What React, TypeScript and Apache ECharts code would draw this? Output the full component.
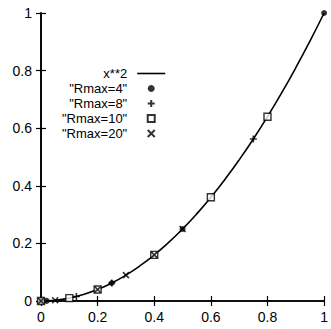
import React, { useEffect, useRef } from 'react';
import * as echarts from 'echarts';

const xTicks = [0, 0.2, 0.4, 0.6, 0.8, 1];
const curveX = [0, 0.05, 0.1, 0.15, 0.2, 0.25, 0.3, 0.35, 0.4, 0.45, 0.5, 0.55, 0.6, 0.65, 0.7, 0.75, 0.8, 0.85, 0.9, 0.95, 1];
const curveY = [0, 0.0025, 0.01, 0.0225, 0.04, 0.0625, 0.09, 0.1225, 0.16, 0.2025, 0.25, 0.3025, 0.36, 0.4225, 0.49, 0.5625, 0.64, 0.7225, 0.81, 0.9025, 1];

const rmax4X = [0, 0.02, 0.25, 0.5, 1];
const rmax4Y = [0, 0.0004, 0.0625, 0.25, 1];
const rmax8X = [0, 0.125, 0.25, 0.75];
const rmax8Y = [0, 0.0156, 0.0625, 0.5625];
const rmax10X = [0, 0.1, 0.2, 0.4, 0.6, 0.8];
const rmax10Y = [0, 0.01, 0.04, 0.16, 0.36, 0.64];
const rmax20X = [0, 0.05, 0.2, 0.3, 0.4, 0.5];
const rmax20Y = [0, 0.0025, 0.04, 0.09, 0.16, 0.25];

const names = ['x**2', '"Rmax=4"', '"Rmax=8"', '"Rmax=10"', '"Rmax=20"'];

const zip = (xs: number[], ys: number[]) => xs.map((x, i) => [x, ys[i]]);

const FONT = '"Liberation Sans", Arial, sans-serif';
const PLUS = 'path://M5,0V10M0,5H10';
const CROSS = 'path://M0,0L10,10M10,0L0,10';
const SQUARE = 'path://M0,0H10V10H0Z';
const DOT = 'path://M5,0A5,5,0,1,1,4.99,0Z';
const DASH = 'path://M0,0H28V1.6H0Z';

export default function App() {
  const ref = useRef<HTMLDivElement>(null);
  useEffect(() => {
    document.body.style.margin = '0';
    const chart = echarts.init(ref.current!, null, { renderer: 'svg' });
    const axisCommon = {
      type: 'value' as const,
      min: 0,
      max: 1,
      interval: 0.2,
      splitLine: { show: false },
      axisLine: { show: true, lineStyle: { color: '#000', width: 1.6 } },
      axisTick: { show: true, inside: true, length: 5, lineStyle: { color: '#000', width: 1.2 } },
    };
    chart.setOption({
      animation: false,
      backgroundColor: '#fff',
      grid: { left: 41, right: 4, top: 13, bottom: 28 },
      xAxis: [
        {
          ...axisCommon,
          position: 'bottom',
          axisLabel: {
            show: true, color: '#000', fontSize: 14, fontFamily: FONT, margin: 9,
            formatter: (v: number) => (xTicks.includes(Math.round(v * 10) / 10) ? String(Math.round(v * 10) / 10) : ''),
          },
        },
        { ...axisCommon, position: 'top', axisLabel: { show: false } },
      ],
      yAxis: [
        {
          ...axisCommon,
          position: 'left',
          axisLabel: { show: true, color: '#000', fontSize: 14, fontFamily: FONT, margin: 9 },
        },
        { ...axisCommon, position: 'right', axisLabel: { show: false } },
      ],
      legend: {
        orient: 'vertical',
        align: 'right',
        left: 57,
        top: 62,
        itemWidth: 28,
        itemHeight: 7,
        itemGap: 2,
        symbolKeepAspect: true,
        selectedMode: false,
        textStyle: { color: '#000', fontSize: 13, fontFamily: FONT, padding: [0, 5, 0, 0] },
        data: [
          { name: names[0], icon: DASH },
          { name: names[1], icon: DOT },
          { name: names[2], icon: PLUS },
          { name: names[3], icon: SQUARE },
          { name: names[4], icon: CROSS },
        ],
      },
      series: [
        {
          name: names[0], type: 'line', data: zip(curveX, curveY), smooth: true, symbol: 'none',
          lineStyle: { color: '#000', width: 1.6 }, itemStyle: { color: '#000' }, z: 1,
        },
        {
          name: names[1], type: 'scatter', data: zip(rmax4X, rmax4Y), symbol: 'circle', symbolSize: 6,
          itemStyle: { color: '#000' }, z: 3,
        },
        {
          name: names[2], type: 'scatter', data: zip(rmax8X, rmax8Y), symbol: PLUS, symbolSize: 7,
          itemStyle: { color: 'none', borderColor: '#000', borderWidth: 1.6 }, z: 3,
        },
        {
          name: names[3], type: 'scatter', data: zip(rmax10X, rmax10Y), symbol: SQUARE, symbolSize: 7,
          itemStyle: { color: '#fff', borderColor: '#000', borderWidth: 1.4 }, z: 3,
        },
        {
          name: names[4], type: 'scatter', data: zip(rmax20X, rmax20Y), symbol: CROSS, symbolSize: 6,
          itemStyle: { color: 'none', borderColor: '#000', borderWidth: 1.6 }, z: 3,
        },
      ],
    });
    return () => chart.dispose();
  }, []);
  return <div ref={ref} style={{ width: 331, height: 329 }} />;
}
